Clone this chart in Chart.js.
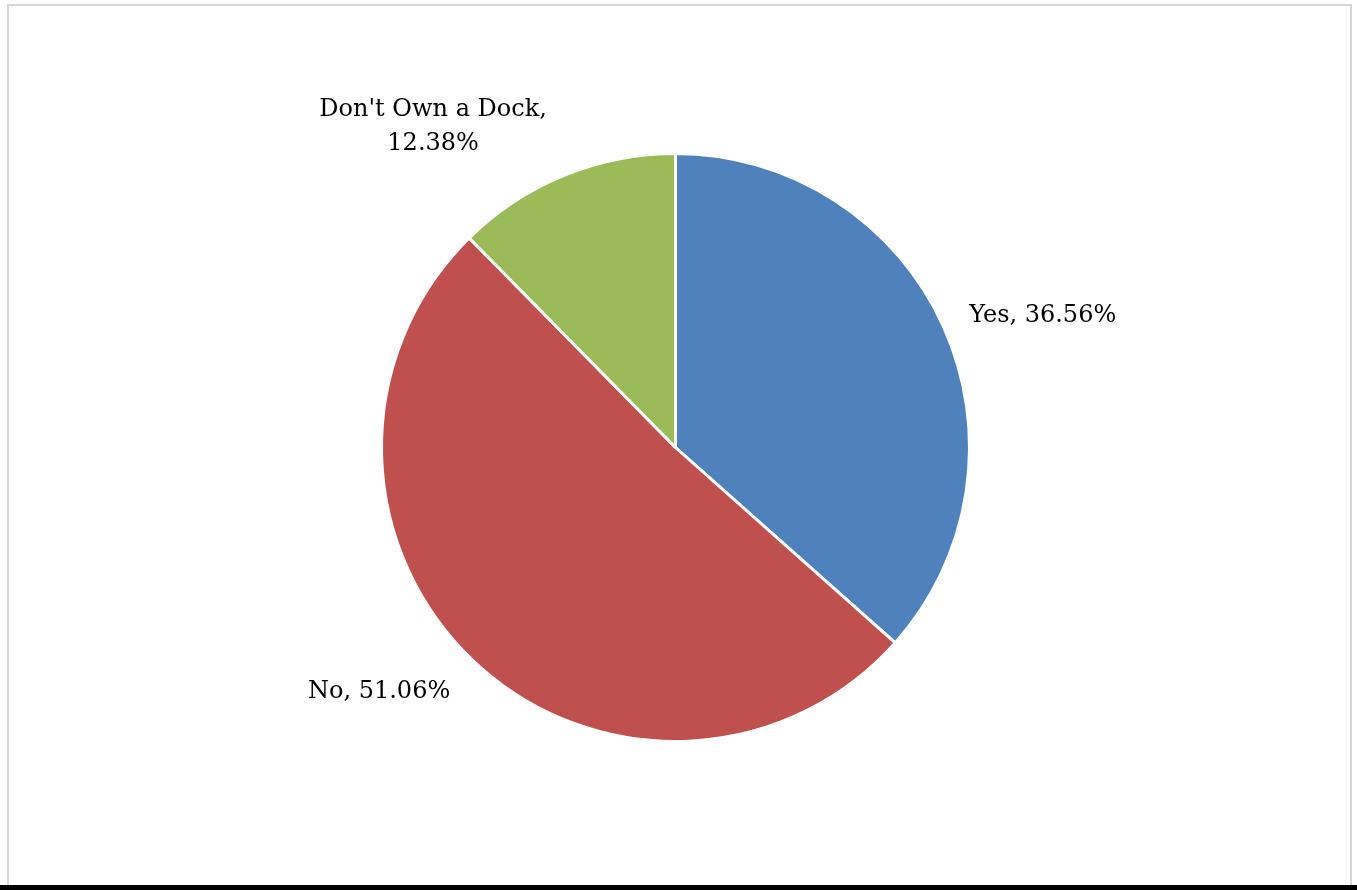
<!DOCTYPE html>
<html>
    <head>
        <meta charset="utf-8">
        <title>Dock ownership</title>
        <script src="https://cdn.jsdelivr.net/npm/chart.js@4.4.0/dist/chart.umd.min.js"></script>
        <style>
            html, body { margin: 0; padding: 0; background: #fff; }
            #frame {
                position: absolute; left: 7px; top: 4px; width: 1345px; height: 890px;
                border: 2px solid #d6d6d6; border-bottom: none; box-sizing: border-box;
            }
            #bar { position: absolute; left: 0; top: 885px; width: 1357px; height: 5px; background: #000; }
            #wrap { position: absolute; left: 0; top: 0; width: 1357px; height: 890px; }
        </style>
    </head>
    <body>
        <div id="frame"></div>
        <div id="bar"></div>
        <div id="wrap"><canvas id="chart"></canvas></div>

        <script>
            const categories = ['Yes', 'No', "Don't Own a Dock"]
            const values = [36.56, 51.06, 12.38]
            const colors = ['#4F81BD', '#C0504D', '#9BBB59']

            // where each label sits: angle shift (deg) from slice middle, distance from centre
            const labelPlace = [
                { dAngle: 4.5, dist: 390, lines: 1 },
                { dAngle: 7.0, dist: 384, lines: 1 },
                { dAngle: -14.8, dist: 402, lines: 2 }
            ]

            const labelPlugin = {
                id: 'outLabels',
                afterDatasetsDraw(chart) {
                    const ctx = chart.ctx
                    const meta = chart.getDatasetMeta(0)
                    ctx.save()
                    ctx.font = '24px "DejaVu Serif"'
                    ctx.fillStyle = '#000'
                    ctx.textAlign = 'center'
                    ctx.textBaseline = 'middle'
                    meta.data.forEach((arc, i) => {
                        const p = arc.getProps(['x', 'y', 'startAngle', 'endAngle'], true)
                        const mid = (p.startAngle + p.endAngle) / 2 + labelPlace[i].dAngle * Math.PI / 180
                        const x = p.x + Math.cos(mid) * labelPlace[i].dist
                        const y = p.y + Math.sin(mid) * labelPlace[i].dist
                        const text = categories[i] + ', ' + values[i].toFixed(2) + '%'
                        if (labelPlace[i].lines === 2) {
                            ctx.fillText(categories[i] + ',', x, y - 17)
                            ctx.fillText(values[i].toFixed(2) + '%', x, y + 17)
                        } else {
                            ctx.fillText(text, x, y)
                        }
                    })
                    ctx.restore()
                }
            }

            const chart = new Chart(document.getElementById('chart'), {
                type: 'pie',
                data: {
                    labels: categories,
                    datasets: [{
                        data: values,
                        backgroundColor: colors,
                        borderColor: '#fff',
                        borderWidth: 3
                    }]
                },
                options: {
                    responsive: true,
                    maintainAspectRatio: false,
                    animation: false,
                    layout: { padding: { top: 152, bottom: 147, left: 0, right: 6 } },
                    plugins: {
                        legend: { display: false },
                        tooltip: { enabled: false }
                    }
                },
                plugins: [labelPlugin]
            })
        </script>
    </body>
</html>
